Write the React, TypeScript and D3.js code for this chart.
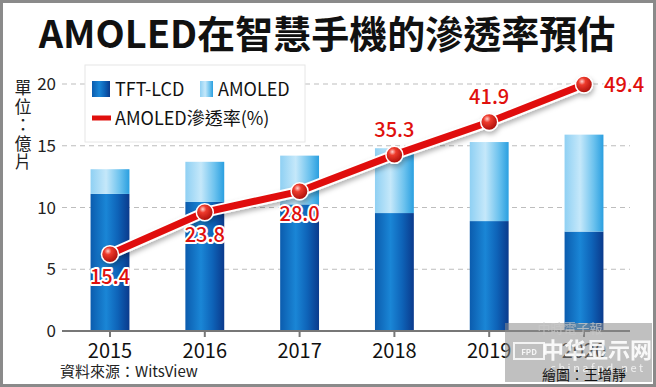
import React from "react";
import * as d3 from "d3";

const years = ["2015", "2016", "2017", "2018", "2019", "2020"];
const tftLcd = [11.1, 10.45, 10.25, 9.55, 8.9, 8.05];
const amoled = [2.0, 3.25, 3.95, 5.25, 6.4, 7.85];
const penetration = [15.4, 23.8, 28.0, 35.3, 41.9, 49.4];
const yTicks = [0, 5, 10, 15, 20];
const labelPos = ["below", "below", "below", "above", "above", "right"];

const W = 656;
const H = 387;
const FONT = "'Noto Sans CJK TC', 'Noto Sans', sans-serif";

export default function App() {
  const x = d3.scaleBand<string>().domain(years).range([62.6, 631.4]).paddingInner(0.59).paddingOuter(0.295);
  const y = d3.scaleLinear().domain([0, 20]).range([331, 84]);
  const yp = d3.scaleLinear().domain([0, 50]).range([331, y(20.2)]);
  const bw = x.bandwidth();
  const cx = (yr: string) => (x(yr) as number) + bw / 2;

  const line = d3
    .line<number>()
    .x((_, i) => cx(years[i]))
    .y((d) => yp(d));
  const path = line(penetration) || "";

  return (
    <svg width={W} height={H} style={{ position: "absolute", left: 0, top: 0 }} fontFamily={FONT}>
      <defs>
        <linearGradient id="gTft" x1="0" x2="1" y1="0" y2="0">
          <stop offset="0" stopColor="#0b5cae" />
          <stop offset="0.4" stopColor="#1a86d6" />
          <stop offset="0.7" stopColor="#0e63b8" />
          <stop offset="1" stopColor="#0a3a8c" />
        </linearGradient>
        <linearGradient id="gAmo" x1="0" x2="1" y1="0" y2="0">
          <stop offset="0" stopColor="#8fd0f3" />
          <stop offset="0.4" stopColor="#c5e8fa" />
          <stop offset="0.75" stopColor="#6cc2ee" />
          <stop offset="1" stopColor="#2a9fe0" />
        </linearGradient>
        <radialGradient id="gBall" cx="0.38" cy="0.32" r="0.7">
          <stop offset="0" stopColor="#ffd0cc" />
          <stop offset="0.3" stopColor="#ee3a2c" />
          <stop offset="1" stopColor="#a80c08" />
        </radialGradient>
        <filter id="shadow" x="-10%" y="-20%" width="120%" height="140%">
          <feDropShadow dx="1" dy="3" stdDeviation="2.5" floodColor="#000" floodOpacity="0.3" />
        </filter>
      </defs>

      <rect x={0} y={0} width={W} height={H} fill="#fff" />

      {/* title */}
      <text x={327} y={48} textAnchor="middle" fontSize={38} fontWeight={700} fill="#111">
        AMOLED在智慧手機的滲透率預估
      </text>

      {/* gridlines */}
      {yTicks.filter((t) => t > 0).map((t) => (
        <line key={t} x1={62} x2={630} y1={y(t)} y2={y(t)} stroke="#bdbdbd" strokeWidth={1} strokeDasharray="5,4" />
      ))}

      {/* y tick labels */}
      {yTicks.map((t) => (
        <text key={t} x={56} y={y(t) + 6} textAnchor="end" fontSize={17} fill="#222">
          {t}
        </text>
      ))}

      {/* unit label */}
      {["單", "位", "：", "億", "片"].map((c, i) => (
        <text key={i} x={23} y={94 + i * 18.5} textAnchor="middle" fontSize={17} fill="#222">
          {c}
        </text>
      ))}

      {/* bars */}
      {years.map((yr, i) => (
        <g key={yr}>
          <rect x={x(yr)} y={y(tftLcd[i])} width={bw} height={y(0) - y(tftLcd[i])} fill="url(#gTft)" />
          <rect x={x(yr)} y={y(tftLcd[i] + amoled[i])} width={bw} height={y(tftLcd[i]) - y(tftLcd[i] + amoled[i])} fill="url(#gAmo)" />
        </g>
      ))}

      {/* axis */}
      <line x1={62} x2={630} y1={y(0)} y2={y(0)} stroke="#777" strokeWidth={2} />
      {years.map((yr) => (
        <g key={yr}>
          <line x1={cx(yr)} x2={cx(yr)} y1={y(0)} y2={y(0) + 6} stroke="#777" strokeWidth={2} />
          <text x={cx(yr)} y={358} textAnchor="middle" fontSize={20} fill="#111">
            {yr}
          </text>
        </g>
      ))}

      {/* legend */}
      <rect x={85} y={65} width={220} height={77} fill="#fff" stroke="#e6e6e6" strokeWidth={1} />
      <rect x={92} y={81} width={18} height={16} fill="url(#gTft)" />
      <text x={115} y={96} fontSize={18} fill="#111">TFT-LCD</text>
      <rect x={200} y={81} width={13} height={16} fill="url(#gAmo)" />
      <text x={218} y={96} fontSize={18} fill="#111">AMOLED</text>
      <line x1={92} x2={111} y1={118} y2={118} stroke="#e0100d" strokeWidth={5} />
      <text x={115} y={125} fontSize={18} fill="#111">AMOLED滲透率(%)</text>

      {/* line */}
      <g filter="url(#shadow)">
        <path d={path} fill="none" stroke="#fff" strokeWidth={11} strokeLinejoin="round" strokeLinecap="round" />
        <path d={path} fill="none" stroke="#e0100d" strokeWidth={7} strokeLinejoin="round" strokeLinecap="round" />
        {penetration.map((p, i) => (
          <circle key={i} cx={cx(years[i])} cy={yp(p)} r={8.5} fill="url(#gBall)" stroke="#fff" strokeWidth={1.5} />
        ))}
      </g>

      {/* value labels */}
      {penetration.map((p, i) => {
        const px = cx(years[i]);
        const py = yp(p);
        let tx = px;
        let ty = py;
        let anchor: "middle" | "start" = "middle";
        if (labelPos[i] === "below") ty = py + 30;
        else if (labelPos[i] === "above") ty = py - 18;
        else {
          tx = px + 20;
          ty = py + 7;
          anchor = "start";
        }
        return (
          <text
            key={i}
            x={tx}
            y={ty}
            textAnchor={anchor}
            fontSize={20}
            fontWeight={500}
            fill="#e0100d"
            stroke="#fff"
            strokeWidth={4}
            strokeLinejoin="round"
            style={{ paintOrder: "stroke" }}
          >
            {p.toFixed(1)}
          </text>
        );
      })}

      {/* source */}
      <text x={60} y={377} fontSize={15} fill="#222">資料來源：WitsView</text>

      {/* watermark */}
      <rect x={505} y={323} width={147} height={59} fill="#8c8c8c" opacity={0.55} />
      <text x={570} y={333} textAnchor="middle" fontSize={13} fill="#c8c8c8" opacity={0.8}>中時電子報</text>
      <rect x={514} y={343} width={30} height={16} fill="none" stroke="#fff" strokeWidth={2} opacity={0.8} />
      <text x={529} y={355} textAnchor="middle" fontSize={8} fontWeight={700} fill="#fff" opacity={0.85}>FPD</text>
      <text x={597} y={358} textAnchor="middle" fontSize={22} fontWeight={700} fill="#fff" opacity={0.9}>中华显示网</text>
      <text x={598} y={372} textAnchor="middle" fontSize={11} fill="#fff" letterSpacing={2.5} opacity={0.75}>chinafpd.net</text>
      <text x={584} y={380} textAnchor="middle" fontSize={14} fill="#111">繪圖：王增靜</text>

      {/* frame */}
      <rect x={1.5} y={1.5} width={W - 3} height={H - 3} fill="none" stroke="#8a8a8a" strokeWidth={3} />
    </svg>
  );
}
